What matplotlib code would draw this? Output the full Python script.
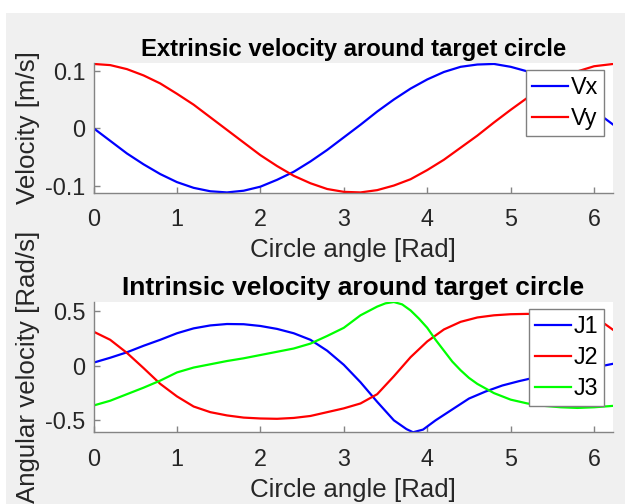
import matplotlib
matplotlib.use("Agg")
import matplotlib.pyplot as plt
from matplotlib.patches import Rectangle

plt.rcParams['font.family'] = ['Liberation Sans', 'DejaVu Sans']

# ---- data ----
theta_v = [0, 0.2, 0.4, 0.6, 0.8, 1.0, 1.2, 1.4, 1.6, 1.8, 2.0, 2.2, 2.4, 2.6, 2.8, 3.0,
           3.2, 3.4, 3.6, 3.8, 4.0, 4.2, 4.4, 4.6, 4.8, 5.0, 5.2, 5.4, 5.6, 5.8, 6.0, 6.23]
vx = [0, -0.022, -0.044, -0.063, -0.080, -0.094, -0.104, -0.110, -0.112, -0.109, -0.102,
      -0.090, -0.076, -0.058, -0.038, -0.016, 0.006, 0.029, 0.050, 0.069, 0.085, 0.098,
      0.107, 0.111, 0.112, 0.107, 0.099, 0.087, 0.071, 0.052, 0.031, 0.006]
vy = [0.112, 0.110, 0.103, 0.092, 0.078, 0.060, 0.041, 0.019, -0.003, -0.025, -0.047,
      -0.066, -0.083, -0.096, -0.106, -0.111, -0.112, -0.108, -0.100, -0.089, -0.073,
      -0.055, -0.034, -0.013, 0.010, 0.032, 0.053, 0.071, 0.087, 0.099, 0.108, 0.112]

theta_j1 = [0, 0.2, 0.4, 0.6, 0.8, 1.0, 1.2, 1.4, 1.6, 1.8, 2.0, 2.2, 2.4, 2.6, 2.8, 3.0,
            3.2, 3.4, 3.6, 3.75, 3.83, 3.95, 4.1, 4.3, 4.5, 4.7, 4.9, 5.1, 5.3, 5.5, 5.7,
            5.9, 6.1, 6.23]
j1 = [0.03, 0.075, 0.125, 0.185, 0.24, 0.30, 0.345, 0.372, 0.385, 0.383, 0.367, 0.340,
      0.300, 0.24, 0.14, 0.01, -0.15, -0.33, -0.50, -0.58, -0.61, -0.585, -0.50, -0.40,
      -0.30, -0.235, -0.18, -0.14, -0.105, -0.08, -0.055, -0.03, 0.0, 0.02]

theta_j2 = [0, 0.2, 0.4, 0.6, 0.8, 1.0, 1.2, 1.4, 1.6, 1.8, 2.0, 2.2, 2.4, 2.6, 2.8, 3.0,
            3.2, 3.4, 3.6, 3.8, 4.0, 4.2, 4.4, 4.6, 4.8, 5.0, 5.2, 5.4, 5.6, 5.8, 6.0,
            6.13, 6.23]
j2 = [0.315, 0.24, 0.12, -0.02, -0.165, -0.28, -0.373, -0.425, -0.455, -0.475, -0.483,
      -0.486, -0.478, -0.46, -0.425, -0.39, -0.345, -0.26, -0.095, 0.08, 0.225, 0.335,
      0.405, 0.445, 0.465, 0.475, 0.478, 0.476, 0.47, 0.46, 0.43, 0.385, 0.33]

theta_j3 = [0, 0.2, 0.4, 0.6, 0.8, 1.0, 1.2, 1.4, 1.6, 1.8, 2.0, 2.2, 2.4, 2.6, 2.8, 3.0,
            3.2, 3.4, 3.5, 3.6, 3.7, 3.8, 3.9, 4.0, 4.1, 4.2, 4.3, 4.4, 4.5, 4.6, 4.8, 5.0,
            5.2, 5.4, 5.6, 5.8, 6.0, 6.23]
j3 = [-0.364, -0.32, -0.26, -0.20, -0.135, -0.06, -0.015, 0.015, 0.045, 0.07, 0.10, 0.13,
      0.16, 0.205, 0.275, 0.35, 0.465, 0.545, 0.575, 0.587, 0.565, 0.51, 0.435, 0.35,
      0.24, 0.14, 0.04, -0.04, -0.11, -0.165, -0.25, -0.31, -0.345, -0.367, -0.38,
      -0.386, -0.38, -0.367]

xticks = [0, 1, 2, 3, 4, 5, 6]
yticks_top = [-0.1, 0, 0.1]
yticks_bot = [-0.5, 0, 0.5]

W, H = 625, 504
fig = plt.figure(figsize=(W / 100, H / 100), dpi=100, facecolor='white')
fig.patches.append(Rectangle((6 / W, 0), 1 - 6 / W, 1 - 13 / H, transform=fig.transFigure,
                             facecolor='#f0f0f0', edgecolor='none', zorder=-10))

FS_TICK = 16.8
FS_LAB = 18.6
AXC = '#848484'
TXT = '#262626'


def make_ax(rect):
    ax = fig.add_axes(rect)
    ax.set_facecolor('white')
    for s in ['top', 'right']:
        ax.spines[s].set_visible(False)
    for s in ['left', 'bottom']:
        ax.spines[s].set_color(AXC)
        ax.spines[s].set_linewidth(1.0)
    ax.tick_params(direction='in', length=4, width=1, color=AXC, labelsize=FS_TICK,
                   labelcolor=TXT)
    ax.tick_params(axis='x', pad=11)
    ax.tick_params(axis='y', pad=6)
    ax.set_xticks(xticks)
    ax.set_xticklabels([str(t) for t in xticks])
    ax.set_xlim(0, 6.23)
    return ax


def rect(l, t, r, b):
    return [l / W, 1 - b / H, (r - l) / W, (b - t) / H]


ax1 = make_ax(rect(93.5, 62.8, 613.3, 193))
ax1.plot(theta_v, vx, color='#0000ff', lw=1.6, label='Vx')
ax1.plot(theta_v, vy, color='#ff0000', lw=1.6, label='Vy')
ax1.set_ylim(-0.113, 0.114)
ax1.set_yticks(yticks_top)
ax1.set_yticklabels(['-0.1', '0', '0.1'])

ax2 = make_ax(rect(93.5, 301.7, 613.3, 432.3))
ax2.plot(theta_j1, j1, color='#0000ff', lw=1.6, label='J1')
ax2.plot(theta_j2, j2, color='#ff0000', lw=1.6, label='J2')
ax2.plot(theta_j3, j3, color='#00ff00', lw=1.6, label='J3')
ax2.set_ylim(-0.61, 0.59)
ax2.set_yticks(yticks_bot)
ax2.set_yticklabels(['-0.5', '0', '0.5'])

titles = ['Extrinsic velocity around target circle', 'Intrinsic velocity around target circle']
title_sizes = [17.2, 19.0]
ylabels = ['Velocity [m/s]', 'Angular velocity [Rad/s]']
for ax, ttl, tfs, yl in zip((ax1, ax2), titles, title_sizes, ylabels):
    ax.set_title(ttl, fontsize=tfs, fontweight='bold', color='black', pad=5)
    ax.set_xlabel('Circle angle [Rad]', fontsize=FS_LAB, color=TXT, labelpad=5)
    ax.set_ylabel(yl, fontsize=FS_LAB, color=TXT)
    ax.yaxis.set_label_coords(-0.103, 0.5)
    leg = ax.legend(loc='upper right', bbox_to_anchor=(0.982, 0.942),
                    fontsize=FS_TICK, frameon=True, fancybox=False, framealpha=1,
                    edgecolor='#808080', borderpad=0.25, labelspacing=0.35,
                    handlelength=1.55, handletextpad=0.1, borderaxespad=0)
    leg.get_frame().set_linewidth(1.0)

fig.savefig('out.png', dpi=100, facecolor=fig.get_facecolor())
